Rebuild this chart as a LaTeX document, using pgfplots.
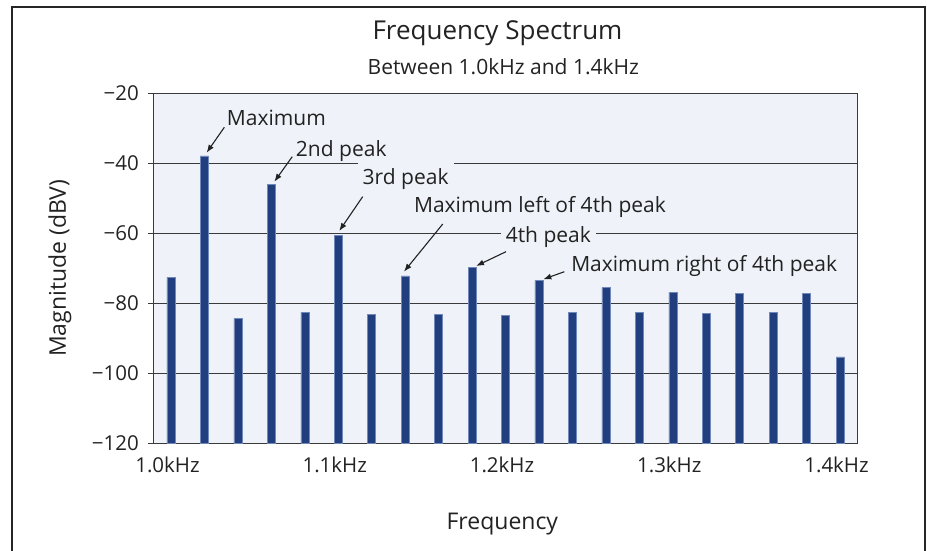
\documentclass[border=0pt]{standalone}
\usepackage{pgfplots}
\pgfplotsset{compat=1.18}
\usepackage{pgfplotstable}
\usepackage{fontspec}
\setmainfont{Open Sans}
\usetikzlibrary{arrows.meta}

\definecolor{barblue}{HTML}{213F7E}
\definecolor{baredge}{HTML}{7088BA}
\definecolor{plotbg}{HTML}{EFF3F9}
\definecolor{gridgray}{HTML}{3A3A3A}
\definecolor{txt}{HTML}{222222}

% frequency (kHz), magnitude (dBV)
\pgfplotstableread{
freq mag
1.00 -72.6
1.02 -37.9
1.04 -84.3
1.06 -46.0
1.08 -82.6
1.10 -60.6
1.12 -83.1
1.14 -72.2
1.16 -83.1
1.18 -69.8
1.20 -83.4
1.22 -73.5
1.24 -82.6
1.26 -75.5
1.28 -82.6
1.30 -76.9
1.32 -82.8
1.34 -77.1
1.36 -82.6
1.38 -77.1
1.40 -95.3
}\spectrum

\begin{document}
\begin{tikzpicture}[
    lbl/.style={anchor=base, fill=plotbg, inner xsep=5pt, inner ysep=0pt,
      text height=22pt, text depth=5.5pt, text=txt,
      font=\fontsize{21}{25}\selectfont},
    arr/.style={-{Latex[length=8pt,width=6pt]}, line width=1.1pt, txt}]
  \path[use as bounding box] (0pt,0pt) rectangle (927pt,551pt);
  \draw[line width=2pt, black!85] (12pt,-5pt) -- (12pt,544.3pt) -- (925.3pt,544.3pt) -- (925.3pt,-5pt);
  \node[anchor=base, text=txt, font=\fontsize{26}{31}\selectfont] at (497.5pt,511pt) {Frequency Spectrum};
  \node[anchor=base, text=txt, font=\fontsize{21}{25}\selectfont] at (503.3pt,476pt) {Between 1.0kHz and 1.4kHz};

  \begin{axis}[
      at={(153.3pt,107.7pt)}, anchor=south west,
      scale only axis, width=704.4pt, height=350pt,
      xmin=0.98942, xmax=1.41058,
      ymin=-120, ymax=-20,
      y coord trafo/.code={\pgfmathparse{#1+120}},
      y coord inv trafo/.code={\pgfmathparse{#1-120}},
      axis background/.style={fill=plotbg},
      axis line style={gridgray, line width=1.5pt},
      ymajorgrids,
      major grid style={gridgray, line width=1.2pt},
      xtick={1.0,1.1,1.2,1.3,1.4},
      xticklabels={1.0kHz,1.1kHz,1.2kHz,1.3kHz,1.4kHz},
      ytick={-120,-100,-80,-60,-40,-20},
      yticklabels={−120,−100,−80,−60,−40,−20},
      xtick style={draw=none},
      ytick pos=left,
      tick align=outside,
      major tick length=5pt,
      ytick style={gridgray, line width=1.2pt},
      tick label style={text=txt, font=\fontsize{20.5}{24}\selectfont},
      xticklabel style={xshift=-3.5pt, yshift=-5pt},
      yticklabel style={xshift=-6pt},
      xlabel={Frequency},
      ylabel={Magnitude (dBV)},
      label style={text=txt, font=\fontsize{23}{27}\selectfont},
      xlabel style={at={(axis description cs:0.4955,-0.2477)}, anchor=base},
      ylabel style={at={(axis description cs:-0.1325,0.5)}, anchor=center},
    ]
    \addplot[ybar, bar width=8pt, fill=barblue, draw=baredge, line width=0.5pt]
      table[x=freq, y=mag] {\spectrum};

    \node[lbl] at (axis cs:1.0630,-29.06) {Maximum};
    \node[lbl] at (axis cs:1.1018,-38.11) {2nd peak};
    \node[lbl] at (axis cs:1.1403,-46.20) {3rd peak};
    \node[lbl] at (axis cs:1.2206,-54.20) {Maximum left of 4th peak};
    \node[lbl] at (axis cs:1.2256,-62.77) {4th peak};
    \node[lbl] at (axis cs:1.3188,-70.97) {Maximum right of 4th peak};

    \draw[arr] (axis cs:1.0319,-29.71) -- (axis cs:1.0213,-36.97);
    \draw[arr] (axis cs:1.0725,-38.11) -- (axis cs:1.0618,-45.26);
    \draw[arr] (axis cs:1.1146,-49.54) -- (axis cs:1.1006,-59.34);
    \draw[arr] (axis cs:1.1625,-57.34) -- (axis cs:1.1393,-70.97);
    \draw[arr] (axis cs:1.2003,-65.26) -- (axis cs:1.1824,-69.34);
    \draw[arr] (axis cs:1.2352,-70.97) -- (axis cs:1.2226,-73.14);
  \end{axis}
\end{tikzpicture}
\end{document}
